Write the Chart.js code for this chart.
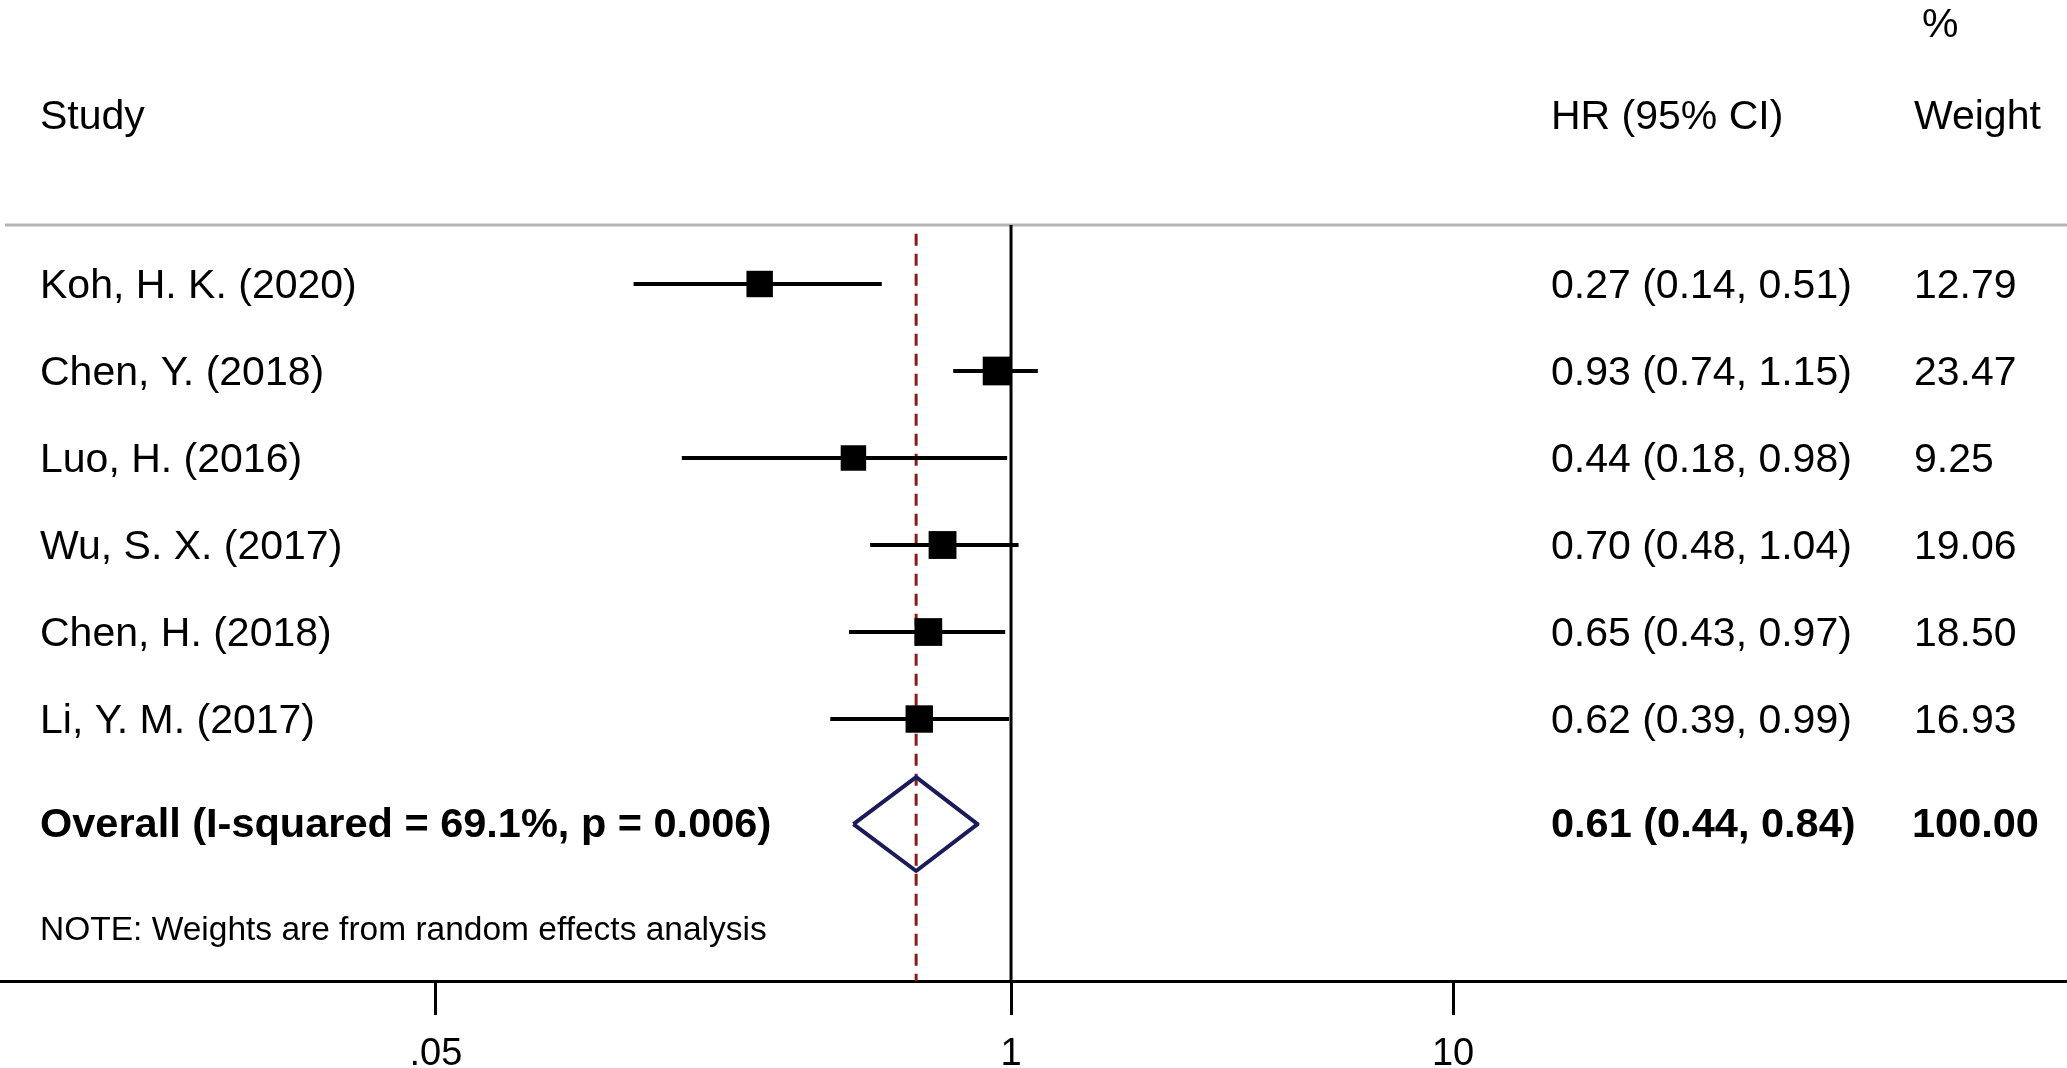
<!DOCTYPE html>
<html>
<head>
<meta charset="utf-8">
<script src="https://cdn.jsdelivr.net/npm/chart.js@4/dist/chart.umd.min.js"></script>
<style>
  html, body { margin: 0; padding: 0; background: #fff; }
  #wrap { width: 2067px; height: 1068px; position: relative; }
</style>
</head>
<body>
<div id="wrap"><canvas id="forest"></canvas></div>
<script>
// dados do forest plot
const studies = ['Koh, H. K. (2020)', 'Chen, Y. (2018)', 'Luo, H. (2016)', 'Wu, S. X. (2017)', 'Chen, H. (2018)', 'Li, Y. M. (2017)'];
const hr = [0.27, 0.93, 0.44, 0.70, 0.65, 0.62];
const ciLow = [0.14, 0.74, 0.18, 0.48, 0.43, 0.39];
const ciHigh = [0.51, 1.15, 0.98, 1.04, 0.97, 0.99];
const weights = [12.79, 23.47, 9.25, 19.06, 18.50, 16.93];

const overallLabel = 'Overall (I-squared = 69.1%, p = 0.006)';
const overallHR = [0.61, 0.44, 0.84]; // estimativa, inferior, superior
const overallWeight = 100.00;
const note = 'NOTE: Weights are from random effects analysis';

const tickValues = [0.05, 1, 10];
const tickLabels = ['.05', '1', '10'];

// layout (unidades de linha no eixo y)
const Y_TOP = -3.264, Y_BOTTOM = 8.011;
const ROW_OVERALL = 6.207, ROW_NOTE = 7.43, ROW_HEADER = -1.93, ROW_PCT = -2.99, ROW_SEP = -0.678;
const X_MIN = 0.005161, X_MAX = 244.9;
const FONT = '"Liberation Sans", Arial, Helvetica, sans-serif';

const ciSets = studies.map((s, i) => ({
    data: [{x: ciLow[i], y: i}, {x: ciHigh[i], y: i}],
    showLine: true,
    borderColor: '#000',
    borderWidth: 4,
    pointRadius: 0,
    order: 2
}));

const sq = weights.map(w => (20 + 1.8 * Math.sqrt(w)) / Math.SQRT2);

const diamondH = 0.54;
const diamond = [
    {x: overallHR[1], y: ROW_OVERALL},
    {x: overallHR[0], y: ROW_OVERALL - diamondH},
    {x: overallHR[2], y: ROW_OVERALL},
    {x: overallHR[0], y: ROW_OVERALL + diamondH},
    {x: overallHR[1], y: ROW_OVERALL}
];

const textPlugin = {
    id: 'forestText',
    beforeDatasetsDraw(chart) {
        const ctx = chart.ctx;
        const y = chart.scales.y.getPixelForValue(ROW_SEP);
        ctx.save();
        ctx.strokeStyle = '#b4b4b4';
        ctx.lineWidth = 3;
        ctx.beginPath();
        ctx.moveTo(5, y);
        ctx.lineTo(chart.width, y);
        ctx.stroke();
        ctx.restore();
    },
    afterDraw(chart) {
        const ctx = chart.ctx;
        const ys = chart.scales.y;
        ctx.save();
        ctx.fillStyle = '#000';
        ctx.textBaseline = 'middle';
        ctx.textAlign = 'left';

        ctx.font = '41px ' + FONT;
        ctx.fillText('%', 1922, ys.getPixelForValue(ROW_PCT) + 2);
        ctx.fillText('Study', 40, ys.getPixelForValue(ROW_HEADER) + 2);
        ctx.fillText('HR (95% CI)', 1551, ys.getPixelForValue(ROW_HEADER) + 2);
        ctx.fillText('Weight', 1914, ys.getPixelForValue(ROW_HEADER) + 2);

        studies.forEach((s, i) => {
            const py = ys.getPixelForValue(i) + 3;
            ctx.fillText(s, 40, py);
            ctx.fillText(hr[i].toFixed(2) + ' (' + ciLow[i].toFixed(2) + ', ' + ciHigh[i].toFixed(2) + ')', 1551, py);
            ctx.fillText(weights[i].toFixed(2), 1914, py);
        });

        const po = ys.getPixelForValue(ROW_OVERALL) + 2;
        ctx.font = 'bold 41.5px ' + FONT;
        ctx.fillText(overallLabel, 40, po);
        ctx.fillText(overallHR[0].toFixed(2) + ' (' + overallHR[1].toFixed(2) + ', ' + overallHR[2].toFixed(2) + ')', 1551, po);
        ctx.fillText(overallWeight.toFixed(2), 1912, po);

        ctx.font = '33.5px ' + FONT;
        ctx.fillText(note, 40, ys.getPixelForValue(ROW_NOTE));
        ctx.restore();
    }
};

const ctx = document.getElementById('forest').getContext('2d');
new Chart(ctx, {
    type: 'scatter',
    data: {
        datasets: [
            // linha de referência em 1
            {
                data: [{x: 1, y: ROW_SEP}, {x: 1, y: Y_BOTTOM}],
                showLine: true,
                borderColor: '#000',
                borderWidth: 3,
                pointRadius: 0,
                order: 4
            },
            // linha tracejada da estimativa global
            {
                data: [{x: overallHR[0], y: ROW_SEP + 0.1}, {x: overallHR[0], y: Y_BOTTOM}],
                showLine: true,
                borderColor: '#8b1a1a',
                borderWidth: 3,
                borderDash: [12, 8],
                pointRadius: 0,
                order: 3
            },
            ...ciSets,
            {
                data: hr.map((v, i) => ({x: v, y: i})),
                pointStyle: 'rect',
                pointRadius: sq,
                pointBackgroundColor: '#000',
                pointBorderColor: '#000',
                pointBorderWidth: 0,
                showLine: false,
                order: 1
            },
            {
                data: diamond,
                showLine: true,
                borderColor: '#1b1b5a',
                borderWidth: 4,
                borderJoinStyle: 'round',
                pointRadius: 0,
                fill: false,
                order: 1
            }
        ]
    },
    options: {
        responsive: true,
        maintainAspectRatio: false,
        animation: false,
        devicePixelRatio: 1,
        layout: { padding: 0, autoPadding: false },
        plugins: {
            legend: { display: false },
            tooltip: { enabled: false }
        },
        scales: {
            x: {
                type: 'logarithmic',
                min: X_MIN,
                max: X_MAX,
                afterBuildTicks: function(scale) {
                    scale.ticks = tickValues.map(v => ({value: v}));
                },
                afterFit: function(scale) {
                    scale.height = 87;
                },
                ticks: {
                    autoSkip: false,
                    maxRotation: 0,
                    color: '#000',
                    padding: 17,
                    font: { family: FONT, size: 38 },
                    callback: function(value, index) {
                        return tickLabels[index];
                    }
                },
                grid: {
                    drawOnChartArea: false,
                    drawTicks: true,
                    tickLength: 34,
                    tickWidth: 3,
                    tickColor: '#000'
                },
                border: { display: true, color: '#000', width: 3 }
            },
            y: {
                type: 'linear',
                reverse: true,
                min: Y_TOP,
                max: Y_BOTTOM,
                display: false
            }
        }
    },
    plugins: [textPlugin]
});
</script>
</body>
</html>
